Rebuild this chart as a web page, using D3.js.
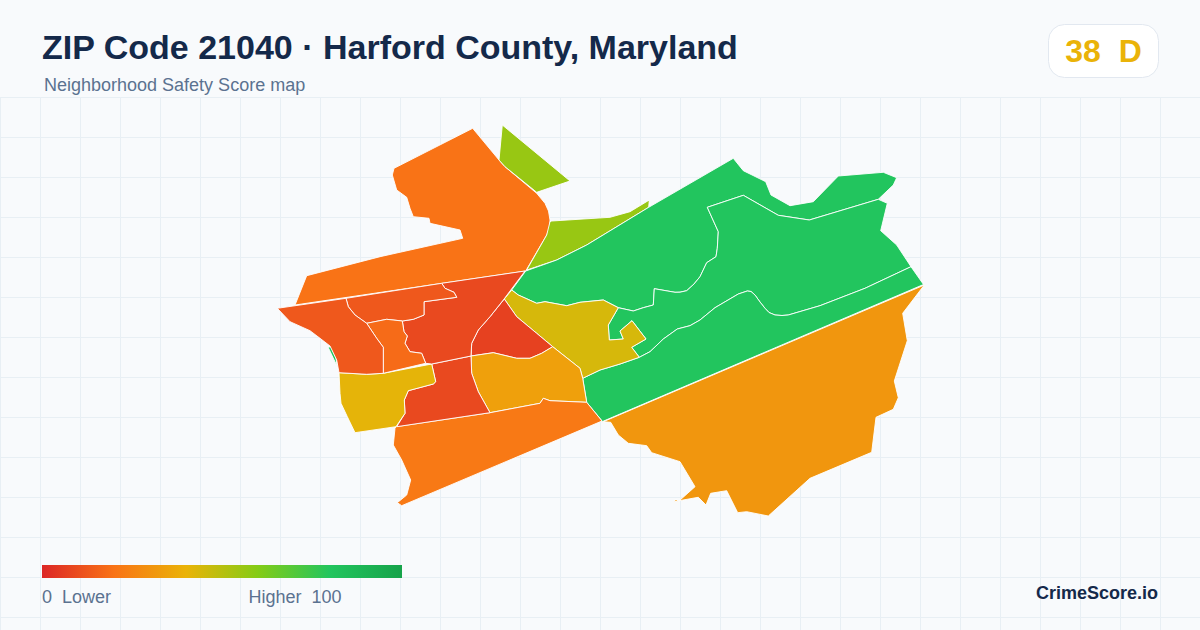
<!DOCTYPE html>
<html><head><meta charset="utf-8">
<script src="https://cdn.jsdelivr.net/npm/d3@7/dist/d3.min.js"></script>
<style>html,body{margin:0;padding:0;background:#f8fafc}svg{display:block}text{white-space:pre;font-family:"Liberation Sans",sans-serif}</style>
</head><body><svg id="c" width="1200" height="630"></svg>
<script>
const titleText = "ZIP Code 21040 · Harford County, Maryland";
const subtitleText = "Neighborhood Safety Score map";
const overallScore = 38, overallGrade = "D";
const legendStops = [0,20,40,60,80,100];
const legendColors = ["#dc2626","#f97316","#eab308","#84cc16","#22c55e","#16a34a"];

const scores = [20,56,56,80,80,80,80,44,7,34,22,9,41,9,13,18,13,31,31];

// neighborhood outlines in map units
const rings = [
[[472.7,128.3],[499,160],[505,166.7],[536.7,193.3],[545,203.3],[548.5,211],[550,220],[549.5,228],[546.7,235],[525.7,271],[295,305],[306.7,275.7],[380,256.7],[462.7,238.3],[460,230],[430,223.3],[429,218.3],[413.3,216.7],[410,208.3],[406.7,197.3],[396.7,190],[392.3,175],[394,168.3]],
[[502.3,125],[570,181],[536.7,192.3],[505,166.7],[499,160]],
[[551.7,221],[610,217.3],[630,211.7],[649.3,200],[648.7,207.3],[586.7,245],[556.7,260],[526.7,270],[546.7,235],[550,221.7]],
[[525.7,271],[556.7,260],[586.7,245],[648.7,207.3],[733.3,158.3],[743.3,170.7],[765.7,181.7],[771,195],[790,205.7],[813.3,201.7],[838.3,176],[883.3,172.3],[896.7,177.7],[893.3,185],[878.3,199.3],[845,209.3],[809.3,220],[778.3,215.3],[743.3,195.3],[707.3,207.3],[718.3,231.7],[717.3,248.3],[716,256.7],[706.7,262.7],[700,276.7],[694,284],[686.7,290.7],[680,292.2],[675,292.3],[654.3,288.7],[653.3,305],[643.3,307.7],[633.3,311],[618.3,307.7],[603.3,300],[580,302.3],[566.7,305.7],[545,301.7],[536.7,303.3],[518.3,295],[511.7,290]],
[[878.3,199.3],[887.3,203.3],[880.7,230.7],[896.7,245],[911,266.7],[865,288.3],[820,305.7],[788.3,315],[782,315.5],[775,315],[769,312.5],[765,308.3],[760,302],[755,295],[751,291.5],[747.3,291],[738.3,294],[715,307.7],[700,320],[690,325.7],[677.3,329],[663.3,339],[650,351.7],[639.3,357.3],[631.7,347.3],[646,339],[632,320.7],[620,331],[623.3,339],[609.3,340],[608.3,325],[618.3,307.7],[633.3,311],[643.3,307.7],[653.3,305],[654.3,288.7],[675,292.3],[680,292.2],[686.7,290.7],[694,284],[700,276.7],[706.7,262.7],[716,256.7],[717.3,248.3],[718.3,231.7],[707.3,207.3],[743.3,195.3],[778.3,215.3],[809.3,220],[845,209.3]],
[[911,266.7],[923.5,284.5],[602.5,421.5],[586.7,402.3],[582.7,378.3],[600,370],[620,364],[639.3,357.3],[650,351.7],[663.3,339],[677.3,329],[690,325.7],[700,320],[715,307.7],[738.3,294],[747.3,291],[751,291.5],[755,295],[760,302],[765,308.3],[769,312.5],[775,315],[782,315.5],[788.3,315],[820,305.7],[865,288.3]],
[[328,347],[331,347],[336,358],[337,366]],
[[504.3,299],[511.7,290],[518.3,295],[536.7,303.3],[545,301.7],[566.7,305.7],[580,302.3],[603.3,300],[618.3,307.7],[608.3,325],[609.3,340],[623.3,339],[620,331],[632,320.7],[646,339],[631.7,347.3],[639.3,357.3],[620,364],[600,370],[582.7,378.3],[580,368.3],[552.7,346.7],[536.7,333.3],[516.7,316.7]],
[[504.3,299],[516.7,316.7],[536.7,333.3],[552.7,346.7],[541.7,353.3],[530,358.3],[516.7,358.3],[493.3,352.7],[471,356],[471.7,343.3],[478.3,330],[490,316.7]],
[[471,356],[493.3,352.7],[516.7,358.3],[530,358.3],[541.7,353.3],[552.7,346.7],[580,368.3],[582.7,378.3],[586.7,402.3],[550,400.7],[543.3,398.3],[540,403.3],[490,412.7],[478.3,391.7],[471.7,373.3]],
[[396,426.7],[490,412.7],[540,403.3],[543.3,398.3],[550,400.7],[586.7,402.3],[602,421],[401.7,505.7],[397.3,502.7],[406.7,495],[410.7,480],[401.7,460],[393.3,445],[395,428.3]],
[[396.7,426.7],[405,413.3],[404.3,400],[408.3,390.7],[433.3,384],[435.7,381.7],[431.7,364],[471,356],[471.7,373.3],[478.3,391.7],[490,412.7]],
[[339,372.7],[366.7,374.3],[383.3,373.3],[431.7,364],[435.7,381.7],[433.3,384],[408.3,390.7],[404.3,400],[405,413.3],[396,426.7],[355,432.7],[347.3,416.7],[341,403.3],[340,393.3]],
[[525,271],[503.3,300],[490,316.7],[478.3,330],[471.7,343.3],[471,356],[431.7,364],[425.7,363.3],[421.7,353.3],[410,351.7],[405,343.3],[407.3,336],[404,331.7],[402.3,321],[413.3,319.3],[424,315],[424,301.7],[456.7,297.3],[454,292.3],[445,288.3],[441.7,283.3]],
[[441.7,283.3],[445,288.3],[454,292.3],[456.7,297.3],[424,301.7],[424,315],[413.3,319.3],[402.3,321],[386.7,319.3],[366.7,323.3],[355,315],[348.3,306.7],[346,298.3]],
[[366.7,323.3],[386.7,319.3],[402.3,321],[404,331.7],[407.3,336],[405,343.3],[410,351.7],[421.7,353.3],[425.7,363.3],[383.3,373.3],[383.3,347.3],[376.7,338.3]],
[[277.3,308.3],[346,298.3],[348.3,306.7],[355,315],[366.7,323.3],[376.7,338.3],[383.3,347.3],[383.3,373.3],[366.7,374.3],[339,372.7],[336.7,360],[330,346],[320,338.3],[310,330.7],[290,321.7]],
[[924.3,285],[902.7,313.3],[907.3,340.7],[894.3,381],[898.3,397.7],[893.3,409.3],[876,417.3],[871.7,452.3],[810,478.3],[768.3,516],[746.7,511.7],[737.7,512.7],[726.7,490.7],[710.7,493.3],[706,505],[698.3,497.3],[679.3,500.7],[695,486.7],[680,461.7],[651.7,452.7],[646.7,445.7],[628.3,443.3],[618.3,435],[610.7,422.3],[603.3,421.7]],
[[674.5,500],[677.5,500],[677.5,501.5],[674.5,501.5]]
];

const W = 1200, H = 630;
const svg = d3.select("#c");
const color = d3.scaleLinear().domain(legendStops).range(legendColors);

// background grid of the map panel
const panelTop = 97;
const gridX = d3.range(0, W, 40), gridY = d3.range(panelTop, H, 40);
const grid = svg.append("g").attr("stroke", "#e8eff4").attr("stroke-width", 1).attr("shape-rendering","crispEdges");
grid.selectAll("line.v").data(gridX).join("line").attr("class","v")
  .attr("x1", d => d).attr("x2", d => d).attr("y1", panelTop).attr("y2", H);
grid.selectAll("line.h").data(gridY).join("line").attr("class","h")
  .attr("x1", 0).attr("x2", W).attr("y1", d => d).attr("y2", d => d);

// map
const features = rings.map((r, i) => ({type:"Feature", properties:{score:scores[i]},
  geometry:{type:"Polygon", coordinates:[r.concat([r[0]])]}}));
const fc = {type:"FeatureCollection", features};
const projection = d3.geoIdentity().fitExtent([[277.3,125],[924.3,516]], fc);
const path = d3.geoPath(projection);
svg.append("g").selectAll("path").data(features).join("path")
  .attr("d", path).attr("fill", d => color(d.properties.score))
  .attr("stroke", "#fff").attr("stroke-width", 0.9).attr("stroke-linejoin","round");

// header
svg.append("text").attr("x",42).attr("y",59).attr("font-size",34).attr("font-weight",700)
  .attr("fill","#14294a").text(titleText);
svg.append("text").attr("x",44).attr("y",91).attr("font-size",18)
  .attr("fill","#5b7290").text(subtitleText);

// badge
svg.append("rect").attr("x",1048.5).attr("y",24.5).attr("width",110).attr("height",53).attr("rx",16)
  .attr("fill","#fff").attr("stroke","#e2e8f0");
svg.append("text").attr("x",1103.5).attr("y",62).attr("text-anchor","middle").attr("font-size",32).attr("font-weight",700)
  .attr("fill","#eab308").text(overallScore + "  " + overallGrade);

// legend
const legendX = d3.scaleLinear().domain([0,100]).range([42,402]);
const grad = svg.append("defs").append("linearGradient").attr("id","lg");
grad.selectAll("stop").data(legendStops).join("stop")
  .attr("offset", d => d + "%").attr("stop-color", d => color(d));
svg.append("rect").attr("x",legendX(0)).attr("y",565).attr("width",legendX(100)-legendX(0)).attr("height",13).attr("fill","url(#lg)");
svg.append("text").attr("x",legendX(0)).attr("y",603).attr("font-size",18).attr("fill","#5b7290").text("0  Lower");
svg.append("text").attr("x",341.5).attr("y",603).attr("text-anchor","end").attr("font-size",18).attr("fill","#5b7290").text("Higher  100");

svg.append("text").attr("x",1158).attr("y",599).attr("text-anchor","end").attr("font-size",18).attr("font-weight",700)
  .attr("fill","#14294a").text("CrimeScore.io");
</script></body></html>
